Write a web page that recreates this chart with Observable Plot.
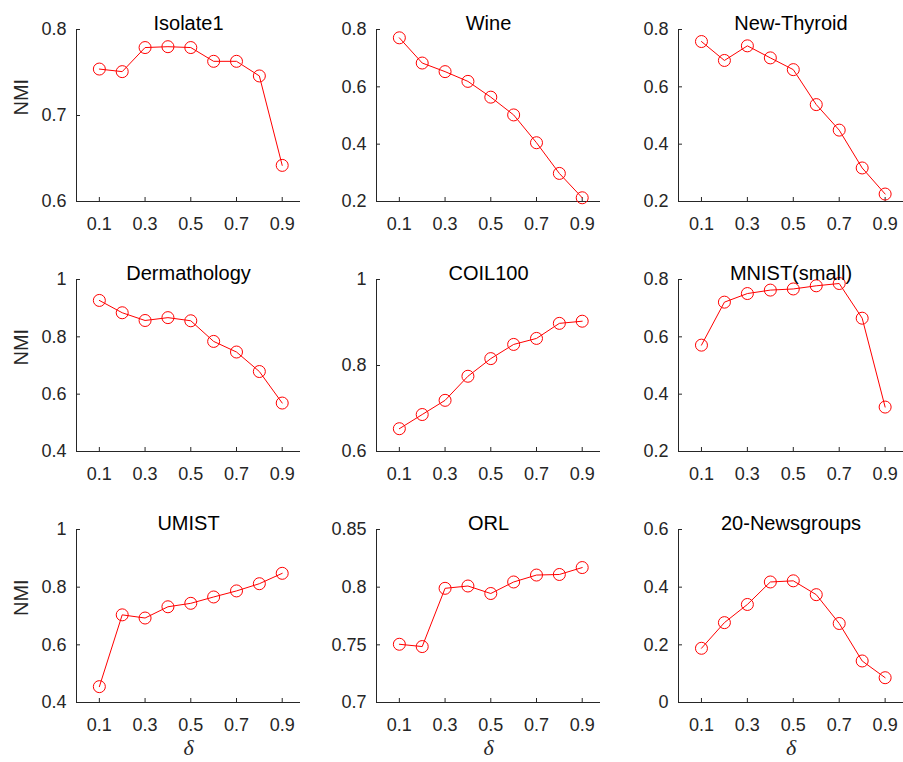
<!DOCTYPE html>
<html>
<head>
<meta charset="utf-8">
<script src="https://cdn.jsdelivr.net/npm/d3@7"></script>
<script src="https://cdn.jsdelivr.net/npm/@observablehq/plot@0.6"></script>
<style>
  html, body { margin: 0; padding: 0; background: #fff; }
  #wrap { position: relative; width: 903px; height: 762px; background: #fff; }
  #wrap > svg { position: absolute; overflow: visible; }
</style>
</head>
<body>
<div id="wrap"></div>
<script>
const deltas = [0.1, 0.2, 0.3, 0.4, 0.5, 0.6, 0.7, 0.8, 0.9];
const xTicks = [0.1, 0.3, 0.5, 0.7, 0.9];

const titles = ["Isolate1", "Wine", "New-Thyroid", "Dermathology", "COIL100", "MNIST(small)", "UMIST", "ORL", "20-Newsgroups"];

const isolate1    = [0.754, 0.751, 0.779, 0.780, 0.779, 0.763, 0.763, 0.746, 0.642];
const wine        = [0.771, 0.683, 0.653, 0.619, 0.564, 0.502, 0.405, 0.298, 0.213];
const newThyroid  = [0.758, 0.692, 0.743, 0.701, 0.660, 0.538, 0.449, 0.317, 0.226];
const dermathology= [0.927, 0.884, 0.857, 0.867, 0.856, 0.784, 0.747, 0.679, 0.569];
const coil100     = [0.653, 0.686, 0.719, 0.775, 0.816, 0.849, 0.863, 0.898, 0.903];
const mnistSmall  = [0.571, 0.721, 0.751, 0.763, 0.767, 0.778, 0.786, 0.665, 0.355];
const umist       = [0.455, 0.704, 0.693, 0.732, 0.744, 0.766, 0.787, 0.812, 0.848];
const orl         = [0.7505, 0.7485, 0.799, 0.801, 0.7945, 0.8045, 0.8105, 0.811, 0.817];
const newsgroups  = [0.188, 0.277, 0.340, 0.418, 0.422, 0.374, 0.274, 0.144, 0.086];

const series = [isolate1, wine, newThyroid, dermathology, coil100, mnistSmall, umist, orl, newsgroups];

const yDomains = [[0.6, 0.8], [0.2, 0.8], [0.2, 0.8], [0.4, 1], [0.6, 1], [0.2, 0.8], [0.4, 1], [0.7, 0.85], [0, 0.6]];
const yTicks = [
  [0.6, 0.7, 0.8],
  [0.2, 0.4, 0.6, 0.8],
  [0.2, 0.4, 0.6, 0.8],
  [0.4, 0.6, 0.8, 1],
  [0.6, 0.8, 1],
  [0.2, 0.4, 0.6, 0.8],
  [0.4, 0.6, 0.8, 1],
  [0.7, 0.75, 0.8, 0.85],
  [0, 0.2, 0.4, 0.6]
];

const axisColor = "#262626";
const wrap = document.getElementById("wrap");
const colLeft = [0, 300, 602];
const colWidth = [300, 300, 301];
const rowTop = [0, 250, 500];
const rowHeight = [250, 250, 262];
const frameH = [172, 172, 173];

const fmt = d => String(d);

for (let i = 0; i < 9; i++) {
  const r = Math.floor(i / 3), c = i % 3;
  const data = deltas.map((d, j) => ({delta: d, nmi: series[i][j]}));
  const height = rowHeight[r];
  const marginTop = 29;
  const marginBottom = height - marginTop - frameH[r];
  const marks = [
    Plot.ruleX([0], {stroke: axisColor, strokeWidth: 1}),
    Plot.ruleY([yDomains[i][0]], {stroke: axisColor, strokeWidth: 1}),
    Plot.axisX(xTicks, {tickSize: -4, tickPadding: 20, fontSize: 18, tickFormat: fmt, stroke: axisColor, fill: axisColor, label: null}),
    Plot.axisY(yTicks[i], {tickSize: -4, tickPadding: 14, fontSize: 18, tickFormat: fmt, stroke: axisColor, fill: axisColor, label: null}),
    Plot.line(data, {x: "delta", y: "nmi", stroke: "#ff0000", strokeWidth: 1}),
    Plot.dot(data, {x: "delta", y: "nmi", r: 6, stroke: "#ff0000", strokeWidth: 1, fill: "none"}),
    Plot.text([titles[i]], {frameAnchor: "top", dy: -14, fontSize: 20, fill: "#000"})
  ];
  if (c === 0) {
    marks.push(Plot.text(["NMI"], {frameAnchor: "left", dx: -55, rotate: -90, fontSize: 20, fill: axisColor}));
  }
  if (r === 2) {
    marks.push(Plot.text(["δ"], {frameAnchor: "bottom", dy: 52, fontSize: 22, fontStyle: "italic", fontFamily: "Liberation Serif, Times New Roman, serif", fill: axisColor}));
  }
  const svg = Plot.plot({
    width: colWidth[c],
    height,
    marginLeft: 76,
    marginRight: 0,
    marginTop,
    marginBottom,
    style: {fontFamily: "Liberation Sans, Arial, sans-serif", fontSize: "18px", color: axisColor, background: "transparent", overflow: "visible"},
    x: {domain: [0, 0.98], axis: null},
    y: {domain: yDomains[i], axis: null},
    marks
  });
  svg.style.left = colLeft[c] + "px";
  svg.style.top = rowTop[r] + "px";
  wrap.appendChild(svg);
}
</script>
</body>
</html>
